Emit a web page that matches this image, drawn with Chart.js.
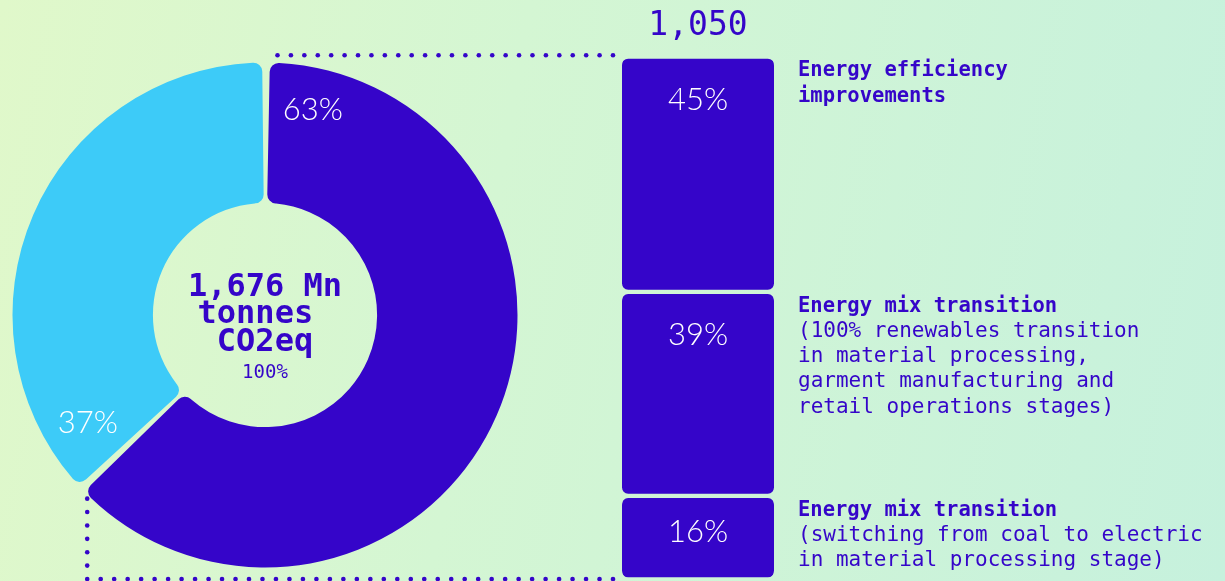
<!DOCTYPE html>
<html><head><meta charset="utf-8">
<script src="https://cdn.jsdelivr.net/npm/chart.js@4.4.0/dist/chart.umd.min.js"></script>
<style>
html,body{margin:0;padding:0;width:1225px;height:581px;overflow:hidden;}
body{background:linear-gradient(100deg,#e0f8ca 0%,#d4f6d3 40%,#c6f1dd 100%);}
canvas{position:absolute;left:0;top:0;width:1225px;height:581px;}
</style></head><body>
<canvas id="bar" width="1225" height="581"></canvas>
<canvas id="donut" width="1225" height="581"></canvas>
<script>
// ---- data ----
const donutLabels = ['Covered by decarbonisation levers', 'Remaining emissions'];
const donutShares = [63, 37];
const totalLines = ['1,676 Mn', 'tonnes ', 'CO2eq'];
const totalShareLabel = '100%';
const leverTotalLabel = '1,050';
const leverNames = ['Energy efficiency improvements', 'Energy mix transition (renewables)', 'Energy mix transition (coal to electric)'];
const leverShares = [45, 39, 16];
const leverTitles = [['Energy efficiency', 'improvements'], ['Energy mix transition'], ['Energy mix transition']];
const leverDetails = [[], ['(100% renewables transition', 'in material processing,', 'garment manufacturing and', 'retail operations stages)'], ['(switching from coal to electric', 'in material processing stage)']];

// ---- styles ----
const PURPLE = '#3505c9';
const BLUE = '#3dcbf8';
const MONO = '"DejaVu Sans Mono", "Liberation Mono", monospace';
const SANS = 'Lato, "Noto Sans", sans-serif';

let donutChart = null;

function dottedPath(ctx, pts) {
  for (let k = 0; k < pts.length - 1; k++) {
    const [x0, y0] = pts[k], [x1, y1] = pts[k + 1];
    const len = Math.hypot(x1 - x0, y1 - y0);
    const n = Math.max(1, Math.round(len / 13.5));
    for (let j = (k === 0 ? 0 : 1); j <= n; j++) {
      const t = j / n;
      ctx.beginPath();
      ctx.arc(x0 + (x1 - x0) * t, y0 + (y1 - y0) * t, 2.3, 0, Math.PI * 2);
      ctx.fill();
    }
  }
}

const barLabels = {
  id: 'barLabels',
  afterDatasetsDraw(chart) {
    const ctx = chart.ctx;
    ctx.save();
    let barLeft = 0, barRight = 0, barTop = Infinity, barBottom = 0;
    chart.data.datasets.forEach((ds, i) => {
      const el = chart.getDatasetMeta(i).data[0];
      const top = Math.min(el.y, el.base) + 2.5;
      const bottom = Math.max(el.y, el.base) - 2.5;
      const h = bottom - top;
      barLeft = el.x - el.width / 2; barRight = el.x + el.width / 2;
      barTop = Math.min(barTop, top); barBottom = Math.max(barBottom, bottom);
      ctx.fillStyle = '#ffffff';
      ctx.font = '300 31px ' + SANS;
      ctx.textAlign = 'center';
      ctx.textBaseline = 'middle';
      ctx.fillText(ds.data[0] + '%', el.x, top + Math.min(41, h * 0.43));
      ctx.textAlign = 'left';
      ctx.fillStyle = PURPLE;
      let y = top + 12;
      const tx = barRight + 24;
      ctx.font = 'bold 20.5px ' + MONO;
      leverTitles[i].forEach(line => { ctx.fillText(line, tx, y); y += 25.2; });
      ctx.font = '21px ' + MONO;
      leverDetails[i].forEach(line => { ctx.fillText(line, tx, y); y += 25.2; });
    });
    ctx.fillStyle = PURPLE;
    ctx.font = '33px ' + MONO;
    ctx.textAlign = 'center';
    ctx.textBaseline = 'middle';
    ctx.fillText(leverTotalLabel, (barLeft + barRight) / 2, barTop - 33);
    chart.$barGeom = {barLeft, barBottom};
    ctx.restore();
  }
};

const connectors = {
  id: 'connectors',
  afterDatasetsDraw(chart) {
    const g = barChart.$barGeom;
    if (!g) return;
    const ctx = chart.ctx;
    const arc = chart.getDatasetMeta(0).data[0];
    const cx = arc.x, cy = arc.y, R = arc.outerRadius;
    const endX = cx + R * Math.cos(arc.endAngle);
    const endY = cy + R * Math.sin(arc.endAngle);
    ctx.save();
    ctx.fillStyle = PURPLE;
    dottedPath(ctx, [[cx + 12.5, cy - R - 9], [g.barLeft - 9, cy - R - 9]]);
    dottedPath(ctx, [[endX + 5, endY + 12], [endX + 5, g.barBottom + 2], [g.barLeft - 9, g.barBottom + 2]]);
    ctx.restore();
  }
};

const donutLabelsPlugin = {
  id: 'donutLabels',
  afterDatasetsDraw(chart) {
    const ctx = chart.ctx;
    const meta = chart.getDatasetMeta(0);
    ctx.save();
    ctx.textAlign = 'center';
    ctx.textBaseline = 'middle';
    meta.data.forEach((arc, i) => {
      const a = arc.startAngle + 0.215;
      const r = arc.innerRadius + (arc.outerRadius - arc.innerRadius) * 0.71;
      ctx.fillStyle = '#ffffff';
      ctx.font = '300 31px ' + SANS;
      ctx.fillText(chart.data.datasets[0].data[i] + '%', arc.x + r * Math.cos(a) + 3, arc.y + r * Math.sin(a));
    });
    const a0 = meta.data[0];
    ctx.fillStyle = PURPLE;
    ctx.font = 'bold 32px ' + MONO;
    let y = a0.y - 27.5;
    totalLines.forEach(line => { ctx.fillText(line, a0.x, y); y += 27.5; });
    ctx.font = '19px ' + MONO;
    ctx.fillText(totalShareLabel, a0.x, a0.y + 58);
    ctx.restore();
  }
};

const barChart = new Chart(document.getElementById('bar'), {
  type: 'bar',
  data: {
    labels: ['Levers'],
    datasets: leverShares.map((v, i) => ({
      label: leverNames[i],
      data: [v],
      backgroundColor: PURPLE,
      borderColor: 'rgba(0,0,0,0)',
      borderWidth: {top: 2.5, bottom: 2.5, left: 0, right: 0},
      borderRadius: {topLeft: 9, topRight: 9, bottomLeft: 9, bottomRight: 9},
      borderSkipped: false,
      barPercentage: 1,
      categoryPercentage: 1
    }))
  },
  options: {
    responsive: false,
    animation: false,
    devicePixelRatio: 1,
    layout: {padding: {left: 622, right: 451, top: 56.5, bottom: 1.5}},
    plugins: {legend: {display: false}, tooltip: {enabled: false}},
    scales: {
      x: {display: false, stacked: true},
      y: {display: false, stacked: true, min: 0, max: 100, reverse: true}
    }
  },
  plugins: [barLabels]
});

donutChart = new Chart(document.getElementById('donut'), {
  type: 'doughnut',
  data: {
    labels: donutLabels,
    datasets: [{
      data: donutShares,
      backgroundColor: [PURPLE, BLUE],
      borderWidth: 0,
      borderRadius: 9,
      spacing: 3.5
    }]
  },
  options: {
    responsive: false,
    animation: false,
    devicePixelRatio: 1,
    cutout: '44%',
    layout: {padding: {left: 12.5, right: 707.5, top: 62.5, bottom: 13.5}},
    plugins: {legend: {display: false}, tooltip: {enabled: false}}
  },
  plugins: [donutLabelsPlugin, connectors]
});
</script>
</body></html>
